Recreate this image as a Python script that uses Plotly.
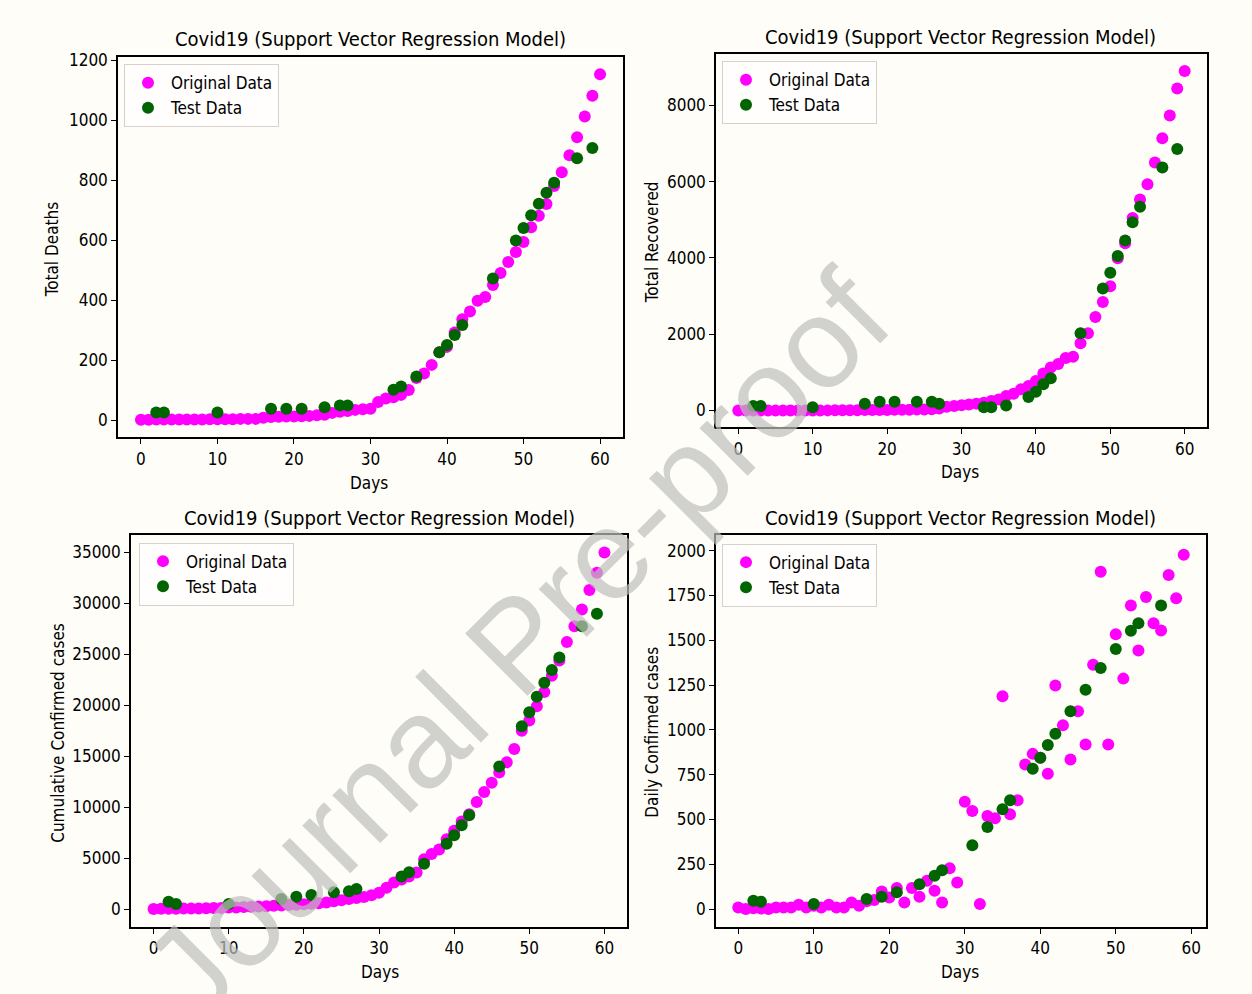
import plotly.graph_objects as go

# ---------------- data ----------------
days_61 = list(range(61))   # day index 0..60
days_60 = list(range(60))   # day index 0..59 (daily series)

deaths = [1, 1, 2, 2, 2, 2, 2, 2, 2, 3, 3, 3, 3, 4, 4, 4, 8, 10, 11, 12,
          12, 13, 14, 16, 18, 24, 28, 30, 34, 36, 38, 60, 72, 76, 84, 100, 140, 155, 184, 226,
          244, 292, 336, 362, 398, 410, 450, 490, 527, 560, 594, 643, 681, 720, 780, 826, 883, 943, 1012, 1081,
          1153]
test_days_a = [2, 3, 10, 17, 19, 21, 24, 26, 27, 33, 34, 36, 39, 40, 41, 42, 46, 49, 50, 51, 52, 53, 54, 57, 59]
deaths_test = [25, 25, 25, 38, 38, 38, 43, 49, 49, 101, 112, 145, 226, 250, 284, 317, 472, 599, 640, 683,
               721, 758, 791, 873, 907]

recovered = [0, 0, 0, 0, 0, 0, 0, 0, 0, 0, 1, 2, 3, 4, 5, 6, 8, 10, 12, 14,
             16, 18, 20, 22, 24, 26, 35, 50, 100, 120, 140, 160, 180, 203, 247, 291, 379, 441, 555, 643,
             775, 969, 1128, 1216, 1374, 1410, 1762, 2026, 2449, 2845, 3259, 3991, 4387, 5048, 5532, 5929, 6502, 7136, 7735, 8440,
             8898]
recovered_test = [115, 115, 88, 176, 229, 229, 229, 229, 176, 88, 88, 132, 352, 493, 687, 846, 2026, 3198, 3612, 4053,
                  4458, 4934, 5339, 6370, 6854]

confirmed = [20, 25, 30, 40, 50, 60, 70, 80, 100, 120, 150, 170, 200, 230, 260, 290, 320, 360, 400, 440,
             480, 520, 570, 650, 760, 880, 1000, 1100, 1200, 1350, 1600, 2100, 2600, 2900, 3200, 3600, 4900, 5400, 5850, 6850,
             7700, 8600, 9300, 10500, 11500, 12400, 13400, 14400, 15700, 17500, 18500, 19900, 21300, 22900, 24400, 26200, 27750, 29400, 31300, 33000,
             35000]
confirmed_test = [724, 494, 494, 988, 1218, 1383, 1646, 1745, 1975, 3193, 3621, 4444, 6419, 7242, 8230, 9218, 13991, 17941, 19324, 20838,
                  22221, 23472, 24690, 27752, 28970]

daily = [9, 0, 5, 3, 0, 9, 9, 9, 24, 9, 19, 9, 24, 9, 9, 37, 19, 43, 50, 98,
         65, 117, 37, 117, 69, 158, 102, 37, 228, 148, 599, 547, 28, 519, 506, 1187, 529, 607, 807, 866,
         844, 755, 1247, 1026, 835, 1104, 918, 1363, 1883, 918, 1534, 1286, 1694, 1443, 1742, 1595, 1554, 1864, 1734, 1978]
test_days_b = [2, 3, 10, 17, 19, 21, 24, 26, 27, 31, 33, 35, 36, 39, 40, 41, 42, 44, 46, 48, 50, 52, 53, 56]
daily_test = [46, 41, 28, 56, 69, 93, 139, 186, 217, 356, 458, 557, 607, 783, 844, 915, 978, 1104, 1224, 1345,
              1452, 1553, 1595, 1694]

title_text = "Covid19 (Support Vector Regression Model)"
x_label = "Days"
y_labels = ["Total Deaths", "Total Recovered", "Cumulative Confirmed cases", "Daily Confirmed cases"]
names = ["Original Data", "Test Data"]
watermark = "Journal Pre-proof"

# ---------------- style / layout helpers ----------------
W, H = 1252, 994
BG = "#fefdf7"
MAG = "#ff00ff"
GRN = "#006400"
FONT = "DejaVu Sans Condensed, DejaVu Sans"


def fx(px):
    return px / W


def fy(py):
    # calibrated pixel -> paper conversion
    return 1 - (py / 0.992 - 8) / H


fig = go.Figure()

panels = [
    (days_61, deaths, test_days_a, deaths_test),
    (days_61, recovered, test_days_a, recovered_test),
    (days_61, confirmed, test_days_a, confirmed_test),
    (days_60, daily, test_days_b, daily_test),
]
legend_ids = ["legend", "legend2", "legend3", "legend4"]
for i, (xo, yo, xt, yt) in enumerate(panels):
    sfx = "" if i == 0 else str(i + 1)
    fig.add_trace(go.Scatter(x=xo, y=yo, mode="markers", name=names[0],
                             marker=dict(color=MAG, size=12),
                             xaxis="x" + sfx, yaxis="y" + sfx, legend=legend_ids[i]))
    fig.add_trace(go.Scatter(x=xt, y=yt, mode="markers", name=names[1],
                             marker=dict(color=GRN, size=12),
                             xaxis="x" + sfx, yaxis="y" + sfx, legend=legend_ids[i]))

axis_common = dict(showline=True, linecolor="black", linewidth=1.5, mirror=True,
                   ticks="outside", ticklen=5, tickwidth=1.3, tickcolor="black",
                   showgrid=False, zeroline=False,
                   tickfont=dict(family=FONT, size=17, color="black"))

# pixel boxes: (left, right, top, bottom)
boxes = [(118, 623, 58, 438), (716, 1207, 55, 428), (131, 627, 535, 927), (716, 1206, 535, 927)]
xranges = [[-3, 63], [-3, 63], [-3, 63], [-2.95, 61.95]]
yranges = [[-58, 1210], [-445, 9343], [-1750, 36750], [-100, 2090]]
ydticks = [200, 2000, 5000, 250]

lay = {}
for i, (l, r, t, b) in enumerate(boxes):
    sfx = "" if i == 0 else str(i + 1)
    anchor = "y" + sfx
    lay["xaxis" + sfx] = dict(axis_common, domain=[fx(l), fx(r)], range=xranges[i], dtick=10,
                              tick0=0, anchor=anchor)
    lay["yaxis" + sfx] = dict(axis_common, domain=[fy(b), fy(t)], range=yranges[i], dtick=ydticks[i],
                              tick0=0, tickformat="d", anchor="x" + sfx)

legend_pos = [(124, 65), (722, 62), (139, 543), (722, 544)]
for i, (lx, ly) in enumerate(legend_pos):
    lay[legend_ids[i]] = dict(x=fx(lx), y=fy(ly), xanchor="left", yanchor="top",
                              bgcolor="rgba(255,255,255,0.6)", bordercolor="#d8d0cc", borderwidth=1,
                              font=dict(family=FONT, size=17, color="black"), tracegroupgap=0,
                              itemwidth=36)

fig.update_layout(width=W, height=H, margin=dict(l=0, r=0, t=0, b=0),
                  paper_bgcolor=BG, plot_bgcolor=BG, showlegend=True, **lay)

annots = []
title_pos = [(370, 40), (961, 38), (379, 518), (961, 518)]
for (tx, ty) in title_pos:
    annots.append(dict(text=title_text, x=fx(tx), y=fy(ty), xref="paper", yref="paper",
                       showarrow=False, xanchor="center", yanchor="middle",
                       font=dict(family=FONT, size=20, color="black")))
days_pos = [(369, 483), (960, 472), (380, 972), (960, 972)]
for (tx, ty) in days_pos:
    annots.append(dict(text=x_label, x=fx(tx), y=fy(ty), xref="paper", yref="paper",
                       showarrow=False, xanchor="center", yanchor="middle",
                       font=dict(family=FONT, size=17, color="black")))
ylab_pos = [(52, 250), (652, 243), (58, 733), (652, 733)]
for lab, (tx, ty) in zip(y_labels, ylab_pos):
    annots.append(dict(text=lab, x=fx(tx), y=fy(ty), xref="paper", yref="paper",
                       showarrow=False, xanchor="center", yanchor="middle", textangle=-90,
                       font=dict(family=FONT, size=17, color="black")))
# watermark
annots.append(dict(text=watermark, x=fx(516), y=fy(645), xref="paper", yref="paper",
                   showarrow=False, xanchor="center", yanchor="middle", textangle=-45,
                   font=dict(family="Liberation Sans, Arial", size=128, color="rgba(190,190,186,0.7)")))
fig.update_layout(annotations=annots)

fig.write_html("out.html", config={"displayModeBar": False},
               post_script="document.body.style.margin='0';document.body.style.overflow='hidden';")
